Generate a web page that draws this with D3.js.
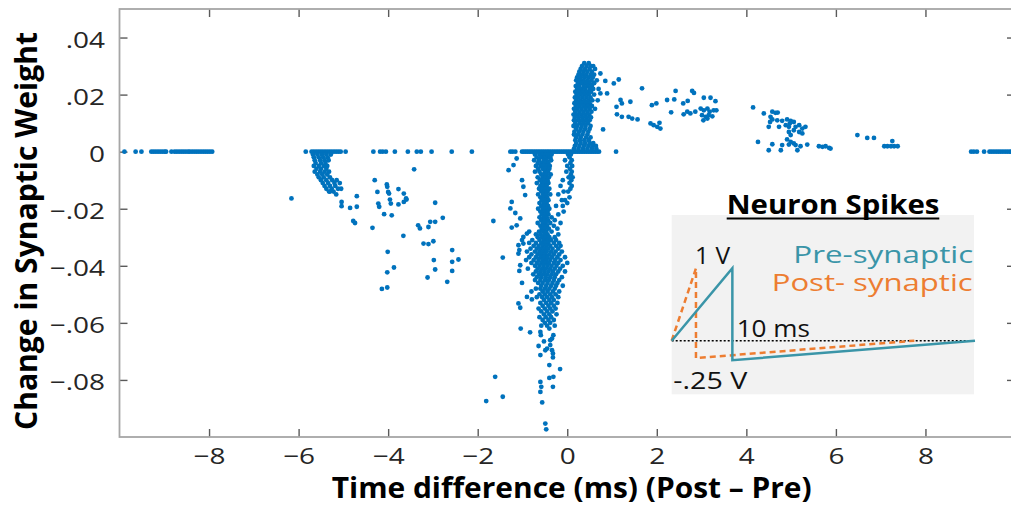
<!DOCTYPE html>
<html>
<head>
<meta charset="utf-8">
<script src="https://cdn.jsdelivr.net/npm/d3@7"></script>
<style>
  body { margin: 0; background: #fff; }
  svg { display: block; font-family: "Open Sans", sans-serif; }
</style>
</head>
<body>
<div id="chart"></div>
<script>
// axis ticks
var xTicks = [-8, -6, -4, -2, 0, 2, 4, 6, 8];
var xTickLabels = ["\u22128", "\u22126", "\u22124", "\u22122", "0", "2", "4", "6", "8"];
var yTicks = [0.04, 0.02, 0, -0.02, -0.04, -0.06, -0.08];
var yTickLabels = [".04", ".02", "0", "\u2212.02", "\u2212.04", "\u2212.06", "\u2212.08"];

// points sitting on zero change (x values only)
var zeroRowX = [-9.89, -9.64, -9.51, -9.29, -9.24, -9.19, -9.14, -9.09, -9.04, -8.99, -8.96,
  -8.84, -8.77, -8.72, -8.67, -8.62, -8.57, -8.52, -8.47, -8.43, -8.38, -8.33, -8.28, -8.23,
  -8.18, -8.13, -8.08, -8.03, -7.98, -7.93,
  -5.84, -5.71, -5.66, -5.61, -5.56, -5.51, -5.46, -5.41, -5.36, -5.31, -5.26, -5.21, -5.16,
  -5.11, -5.06, -4.95, -4.33, -4.18, -4.12, -4.05, -3.85, -3.56, -3.36, -3.27, -3.03, -2.58, -2.13,
  -1.27, -1.22, -1.16, -1.01, -0.97, -0.93, -0.89, -0.85, -0.81, -0.77, -0.73, -0.69, -0.65,
  -0.61, -0.57, -0.53, -0.49, -0.45, -0.41, -0.37, -0.33, -0.29, -0.25, -0.21, -0.17, -0.13,
  -0.09, -0.05, -0.01, 0.03, 0.07, 0.11, 0.15, 0.19, 0.23, 0.27, 0.31, 0.35, 0.39, 0.43, 0.47,
  0.51, 0.55, 0.59, 0.63, 0.67, 0.71, 1.09,
  9.02, 9.08, 9.15, 9.31, 9.43, 9.48, 9.53, 9.58, 9.63, 9.68, 9.73, 9.78, 9.83, 9.88, 9.93, 9.98];

// cluster near -5.5 ms : [weight change, [time differences]]
var earlyRows = [
  [-0.001, [-5.68, -5.58, -5.48, -5.38, -5.28]],
  [-0.002, [-5.66, -5.55, -5.45, -5.35]],
  [-0.003, [-5.64, -5.52, -5.42, -5.33]],
  [-0.004, [-5.62, -5.5, -5.4]],
  [-0.005, [-5.66, -5.55, -5.44, -5.36]],
  [-0.006, [-5.6, -5.5, -5.38]],
  [-0.007, [-5.64, -5.52, -5.42, -5.32]],
  [-0.008, [-5.58, -5.47, -5.36]],
  [-0.009, [-5.55, -5.44, -5.3]],
  [-0.010, [-5.5, -5.38, -5.25, -5.15]],
  [-0.011, [-5.46, -5.34, -5.2, -5.08]],
  [-0.012, [-5.42, -5.3, -5.18]],
  [-0.013, [-5.38, -5.26, -5.12, -5.05]],
  [-0.014, [-5.32, -5.22, -5.3]],
  [-0.015, [-5.16]]
];

// main depression band just below 0 ms
var depressionRows = [
  [-0.001, [-0.72, -0.62, -0.55, -0.48, -0.41, -0.35, 0.02, 0.08]],
  [-0.002, [-0.68, -0.58, -0.5, -0.44, -0.38, 0.05]],
  [-0.003, [-0.74, -0.63, -0.52, -0.46, -0.36, -0.05, 0.1]],
  [-0.004, [-0.66, -0.57, -0.49, -0.42, 0.07]],
  [-0.005, [-0.7, -0.6, -0.53, -0.45, -0.39, 0.0, 0.11]],
  [-0.006, [-0.65, -0.55, -0.48, -0.4, 0.06]],
  [-0.007, [-0.72, -0.62, -0.5, -0.43, -0.02, 0.1]],
  [-0.008, [-0.58, -0.52, -0.46, -0.37, 0.08]],
  [-0.009, [-0.66, -0.55, -0.49, -0.41, 0.03, 0.12]],
  [-0.010, [-0.61, -0.52, -0.44, -0.1, 0.09]],
  [-0.011, [-0.68, -0.57, -0.5, -0.42, 0.05]],
  [-0.012, [-0.6, -0.53, -0.46, -0.15, 0.1]],
  [-0.013, [-0.63, -0.55, -0.48, -0.4, 0.07]],
  [-0.014, [-0.58, -0.51, -0.44, -0.08, 0.02]],
  [-0.015, [-0.65, -0.54, -0.47, -0.38, -0.2]],
  [-0.016, [-0.6, -0.52, -0.45, 0.05]],
  [-0.017, [-0.57, -0.49, -0.42, -0.12, -0.05]],
  [-0.018, [-0.62, -0.53, -0.46, 0.0]],
  [-0.019, [-0.58, -0.5, -0.43, -0.25, -0.1]],
  [-0.020, [-0.65, -0.55, -0.48, -0.4]],
  [-0.021, [-0.6, -0.52, -0.44, -0.08]],
  [-0.022, [-0.57, -0.49, -0.42, -0.2]],
  [-0.023, [-0.62, -0.53, -0.46, -0.35]],
  [-0.024, [-0.58, -0.5, -0.43, -0.28]],
  [-0.025, [-0.66, -0.55, -0.48, -0.38, -0.15]],
  [-0.026, [-0.6, -0.52, -0.45, -0.3]],
  [-0.027, [-0.57, -0.5, -0.41, -0.22]],
  [-0.028, [-0.85, -0.63, -0.54, -0.47, -0.35]],
  [-0.029, [-0.7, -0.6, -0.51, -0.44, -0.2]],
  [-0.030, [-0.66, -0.56, -0.48, -0.4, -0.28]],
  [-0.031, [-0.78, -0.62, -0.53, -0.45, -0.36, -0.25]],
  [-0.032, [-0.85, -0.7, -0.58, -0.5, -0.42, -0.3, -0.18]],
  [-0.033, [-0.75, -0.64, -0.55, -0.47, -0.38, -0.25, -0.15]],
  [-0.034, [-0.82, -0.68, -0.59, -0.51, -0.43, -0.33, -0.2]],
  [-0.035, [-0.9, -0.72, -0.62, -0.54, -0.46, -0.36, -0.26, -0.12]],
  [-0.036, [-0.8, -0.66, -0.57, -0.49, -0.4, -0.3, -0.18]],
  [-0.037, [-0.85, -0.7, -0.6, -0.52, -0.44, -0.34, -0.22, -0.05]],
  [-0.038, [-0.92, -0.75, -0.64, -0.55, -0.47, -0.38, -0.27, -0.15]],
  [-0.039, [-0.8, -0.68, -0.58, -0.5, -0.41, -0.3, -0.2, 0.0]],
  [-0.040, [-0.72, -0.62, -0.53, -0.44, -0.35, -0.24, -0.1]],
  [-0.041, [-0.88, -0.66, -0.56, -0.48, -0.38, -0.28, -0.16]],
  [-0.042, [-0.7, -0.6, -0.51, -0.42, -0.32, -0.2, -0.05]],
  [-0.043, [-0.76, -0.63, -0.54, -0.45, -0.35, -0.25]],
  [-0.044, [-0.68, -0.58, -0.48, -0.38, -0.28, -0.12]],
  [-0.045, [-0.72, -0.6, -0.5, -0.41, -0.3, -0.18]],
  [-0.046, [-0.65, -0.55, -0.44, -0.33, -0.22]],
  [-0.047, [-0.58, -0.47, -0.36, -0.25, -0.1]],
  [-0.048, [-0.7, -0.6, -0.5, -0.4, -0.28]],
  [-0.049, [-0.8, -0.55, -0.44, -0.32, -0.18]],
  [-0.050, [-0.62, -0.5, -0.38, -0.26]],
  [-0.051, [-0.68, -0.56, -0.45, -0.34, -0.2]],
  [-0.052, [-0.52, -0.4, -0.3]],
  [-0.053, [-0.6, -0.47, -0.36, -0.22]],
  [-0.054, [-0.55, -0.42, -0.3]],
  [-0.055, [-0.64, -0.5, -0.38, -0.26]],
  [-0.056, [-0.58, -0.45, -0.33]],
  [-0.057, [-0.52, -0.4, -0.24]],
  [-0.058, [-0.62, -0.48, -0.36]],
  [-0.059, [-0.55, -0.42, -0.3]],
  [-0.060, [-0.5, -0.38]],
  [-0.061, [-0.58, -0.45, -0.28]]
];

// potentiation cluster just above 0 ms
var potentiationRows = [
  [0.031, [0.38, 0.48]],
  [0.030, [0.33, 0.43, 0.52, 0.58]],
  [0.029, [0.3, 0.4, 0.5, 0.62]],
  [0.028, [0.27, 0.36, 0.45, 0.55]],
  [0.027, [0.25, 0.33, 0.42, 0.52, 0.6]],
  [0.026, [0.22, 0.3, 0.39, 0.48, 0.57]],
  [0.025, [0.2, 0.28, 0.36, 0.45, 0.54, 0.66]],
  [0.024, [0.24, 0.33, 0.42, 0.5, 0.6]],
  [0.023, [0.19, 0.27, 0.37, 0.46, 0.55]],
  [0.022, [0.22, 0.31, 0.4, 0.5, 0.58, 0.7]],
  [0.021, [0.18, 0.26, 0.35, 0.44, 0.53]],
  [0.020, [0.21, 0.3, 0.39, 0.48, 0.6]],
  [0.019, [0.17, 0.25, 0.34, 0.43, 0.52]],
  [0.018, [0.2, 0.29, 0.38, 0.47, 0.56, 0.68]],
  [0.017, [0.16, 0.24, 0.33, 0.42, 0.5]],
  [0.016, [0.19, 0.28, 0.37, 0.46, 0.55]],
  [0.015, [0.15, 0.23, 0.32, 0.41, 0.5, 0.62]],
  [0.014, [0.18, 0.27, 0.36, 0.45, 0.54]],
  [0.013, [0.14, 0.22, 0.31, 0.4, 0.49]],
  [0.012, [0.17, 0.26, 0.35, 0.44, 0.53]],
  [0.011, [0.15, 0.24, 0.33, 0.42, 0.5]],
  [0.010, [0.18, 0.28, 0.37, 0.46]],
  [0.009, [0.14, 0.22, 0.32, 0.41, 0.52]],
  [0.008, [0.2, 0.3, 0.4, 0.5]],
  [0.007, [0.16, 0.26, 0.36, 0.47]],
  [0.006, [0.15, 0.24, 0.34, 0.45]],
  [0.005, [0.2, 0.3, 0.42, 0.52]],
  [0.004, [0.18, 0.28, 0.38, 0.48]],
  [0.003, [0.2, 0.3, 0.4, 0.5, 0.58]],
  [0.002, [0.17, 0.27, 0.37, 0.47, 0.56, 0.64]],
  [0.001, [0.15, 0.25, 0.35, 0.45, 0.55, 0.65]]
];

// isolated points [time difference, weight change]
var loosePoints = [
  [-6.16, -0.0164], [-4.70, -0.0156], [-5.04, -0.0176], [-5.04, -0.0191], [-4.85, -0.0197],
  [-4.70, -0.0193], [-4.78, -0.0243], [-4.74, -0.0250], [-4.35, -0.0267], [-4.30, -0.0100],
  [-4.24, -0.0141], [-4.03, -0.0115], [-4.02, -0.0123], [-4.00, -0.0141], [-3.98, -0.0147],
  [-3.77, -0.0131], [-3.65, -0.0147], [-3.60, -0.0164], [-3.65, -0.0176], [-3.59, -0.0168],
  [-3.96, -0.0168], [-3.94, -0.0182], [-3.77, -0.0185], [-4.22, -0.0182], [-4.20, -0.0193],
  [-4.09, -0.0219], [-3.92, -0.0223], [-3.42, -0.0062], [-2.95, -0.0179], [-2.78, -0.0232],
  [-3.06, -0.0246], [-2.95, -0.0246], [-3.33, -0.0258], [-3.29, -0.0269], [-3.10, -0.0264],
  [-3.66, -0.0295], [-3.21, -0.0322], [-3.10, -0.0324], [-2.99, -0.0314], [-4.01, -0.0351],
  [-2.57, -0.0345], [-2.98, -0.0380], [-2.57, -0.0386], [-2.43, -0.0378], [-3.87, -0.0406],
  [-2.95, -0.0413], [-2.57, -0.0418], [-4.02, -0.0423], [-3.12, -0.0441], [-2.68, -0.0456],
  [-4.14, -0.0481], [-4.02, -0.0476],
  [-1.20, -0.0047], [-1.31, -0.0065], [-1.13, -0.0024], [-1.01, -0.0100], [-0.98, -0.0123],
  [-0.94, -0.0152], [-1.24, -0.0176], [-1.27, -0.0199], [-1.16, -0.0215], [-1.65, -0.0243],
  [-1.05, -0.0234], [-1.13, -0.0258], [-1.24, -0.0266], [-0.98, -0.0299], [-1.01, -0.0310],
  [-0.90, -0.0287], [-1.09, -0.0328], [-1.07, -0.0345], [-1.09, -0.0357], [-0.98, -0.0322],
  [-1.44, -0.0371], [-1.05, -0.0398], [-1.07, -0.0418], [-1.01, -0.0460], [-0.90, -0.0509],
  [-0.79, -0.0518], [-1.09, -0.0532], [-1.05, -0.0547], [-1.04, -0.0620], [-0.83, -0.0633],
  [-1.61, -0.0789], [-1.81, -0.0874], [-1.44, -0.0859], [-0.49, -0.0953], [-0.47, -0.0973],
  [-0.60, -0.0807], [-0.58, -0.0824], [-0.60, -0.0842], [-0.40, -0.0793], [-0.31, -0.0789],
  [-0.32, -0.0824], [-0.16, -0.0762], [-0.40, -0.0748], [-0.60, -0.0713], [-0.49, -0.0696],
  [-0.64, -0.0681], [-0.38, -0.0678], [-0.34, -0.0696], [-0.32, -0.0707], [-0.32, -0.0721],
  [-0.56, -0.0879], [-0.60, -0.0632], [-0.59, -0.0643], [-0.40, -0.0620], [-0.31, -0.0643],
  [-0.34, -0.0655], [-0.38, -0.0661], [-0.52, -0.0665], [-0.45, -0.0690],
  [0.74, 0.0274], [0.85, 0.0248], [1.04, 0.0239], [1.15, 0.0253], [0.74, 0.0204], [0.89, 0.0204],
  [1.19, 0.0181], [1.22, 0.0169], [1.41, 0.0175], [1.10, 0.0157], [1.11, 0.0131], [1.22, 0.0122],
  [1.37, 0.0122], [1.45, 0.0116], [1.57, 0.0113], [0.80, 0.0078], [1.67, 0.0222], [1.89, 0.0163],
  [1.99, 0.0169], [1.86, 0.0099], [1.93, 0.0093], [2.01, 0.0087], [2.06, 0.0101], [2.08, 0.0081],
  [2.23, 0.0181], [2.39, 0.0183], [2.42, 0.0213], [2.32, 0.0138], [2.59, 0.0169], [2.69, 0.0178],
  [2.79, 0.0213], [2.83, 0.0206], [2.60, 0.0131], [2.68, 0.0140], [2.75, 0.0134], [2.86, 0.0140],
  [3.05, 0.0189], [3.20, 0.0189], [3.31, 0.0177], [2.98, 0.0151], [3.05, 0.0145], [3.13, 0.0151],
  [3.18, 0.0140], [3.27, 0.0145], [3.33, 0.0145], [3.01, 0.0128], [3.09, 0.0122], [3.16, 0.0128],
  [3.24, 0.0124], [3.04, 0.0110], [3.13, 0.0116],
  [4.15, 0.0155], [4.39, 0.0134], [4.58, 0.0140], [4.65, 0.0136], [4.70, 0.0137], [4.54, 0.0122],
  [4.58, 0.0113], [4.53, 0.0104], [4.69, 0.0110], [4.80, 0.0108], [4.91, 0.0113], [4.99, 0.0108],
  [5.06, 0.0104], [4.97, 0.0099], [4.50, 0.0087], [4.73, 0.0087], [4.88, 0.0093], [4.95, 0.0087],
  [5.10, 0.0087], [5.18, 0.0093], [5.25, 0.0081], [5.32, 0.0087], [4.95, 0.0069], [5.06, 0.0075],
  [5.18, 0.0069], [5.25, 0.0064], [4.99, 0.0058], [4.26, 0.0034], [4.91, 0.0043], [4.99, 0.0034],
  [5.06, 0.0029], [4.58, 0.0026], [4.50, 0.0005], [4.77, 0.0005], [4.80, 0.0023], [4.95, 0.0025],
  [5.10, 0.0023], [5.21, 0.0019], [5.36, 0.0025], [5.14, 0.0005], [5.62, 0.0019], [5.70, 0.0017],
  [5.77, 0.0019], [5.85, 0.0013], [5.88, 0.0011], [6.48, 0.0058], [6.70, 0.0048], [6.85, 0.0048],
  [7.26, 0.0037], [7.08, 0.0019], [7.15, 0.0019], [7.23, 0.0019], [7.30, 0.0019], [7.38, 0.0019]
];

// inset spike shapes: [time in ms, volts]
var preSpike = [[0, 0], [10, 1], [10, -0.27], [50, 0]];
var postSpike = [[0, 0], [4, 1], [4, -0.24], [40, 0]];

// collect scatter points
var points = [];
zeroRowX.forEach(function(t) { points.push([t, 0]); });
[earlyRows, depressionRows, potentiationRows].forEach(function(rows) {
  rows.forEach(function(r) {
    r[1].forEach(function(t) { points.push([t, r[0]]); });
  });
});
loosePoints.forEach(function(p) { points.push(p); });

var width = 1011, height = 512;

var svg = d3.select("#chart").append("svg")
  .attr("width", width)
  .attr("height", height);

var x = d3.scaleLinear().domain([-10, 10]).range([119.5, 1015]);
var y = d3.scaleLinear().domain([-0.1, 0.05]).range([437, 9]);

// axes with inward ticks
var xAxis = svg.append("g")
  .attr("transform", "translate(0," + y.range()[0] + ")")
  .call(d3.axisBottom(x).tickValues(xTicks).tickSizeInner(-8).tickSizeOuter(0)
    .tickFormat(function(d, i) { return xTickLabels[i]; }));
var xTop = svg.append("g")
  .attr("transform", "translate(0," + y.range()[1] + ")")
  .call(d3.axisTop(x).tickValues(xTicks).tickSizeInner(-8).tickSizeOuter(0).tickFormat(""));
var yAxis = svg.append("g")
  .attr("transform", "translate(" + x.range()[0] + ",0)")
  .call(d3.axisLeft(y).tickValues(yTicks).tickSizeInner(-8).tickSizeOuter(0)
    .tickFormat(function(d, i) { return yTickLabels[i]; }));
var yRight = svg.append("g")
  .attr("transform", "translate(" + x.range()[1] + ",0)")
  .call(d3.axisRight(y).tickValues(yTicks).tickSizeInner(-8).tickSizeOuter(0).tickFormat(""));

[xAxis, xTop, yAxis, yRight].forEach(function(g) {
  g.select(".domain").remove();
  g.selectAll("line").attr("stroke", "#5a5a5a").attr("stroke-width", 1.4);
});

// tick labels are drawn a bit wider than the font's natural width
function widen(sel) {
  sel.style("font-family", "Open Sans").style("font-size", "22px").attr("fill", "#262626")
    .attr("lengthAdjust", "spacingAndGlyphs")
    .attr("textLength", function() { return this.getComputedTextLength() * 1.27; });
}
xAxis.selectAll("text").attr("y", 27).attr("dy", null).call(widen);
yAxis.selectAll("text").attr("x", -14.5).attr("dy", null).attr("y", 9.5).call(widen);

// frame
svg.append("rect")
  .attr("x", x.range()[0]).attr("y", y.range()[1])
  .attr("width", x.range()[1] - x.range()[0])
  .attr("height", y.range()[0] - y.range()[1])
  .attr("fill", "none").attr("stroke", "#a6a6a6").attr("stroke-width", 1.8);

// scatter
svg.append("g").selectAll("circle")
  .data(points)
  .enter().append("circle")
  .attr("cx", function(d) { return x(d[0]); })
  .attr("cy", function(d) { return y(d[1]); })
  .attr("r", 2.4)
  .attr("fill", "#0072BD");

// axis titles
svg.append("text")
  .attr("x", 331.7).attr("y", 498)
  .attr("textLength", 480).attr("lengthAdjust", "spacingAndGlyphs")
  .style("font-weight", "bold").style("font-size", "29px")
  .text("Time difference (ms) (Post \u2013 Pre)");

svg.append("text")
  .attr("transform", "rotate(-90)")
  .attr("x", -430).attr("y", 37)
  .attr("textLength", 398).attr("lengthAdjust", "spacingAndGlyphs")
  .style("font-weight", "bold").style("font-size", "30px")
  .text("Change in Synaptic Weight");

// inset
var ix = d3.scaleLinear().domain([0, 50]).range([671.7, 975]);
var iy = d3.scaleLinear().domain([0, 1]).range([340.7, 268.3]);
var inset = svg.append("g");

inset.append("rect")
  .attr("x", 671.7).attr("y", 215)
  .attr("width", 302.3).attr("height", 179.3)
  .attr("fill", "#f2f2f2");

inset.append("text")
  .attr("x", 726.7).attr("y", 214)
  .attr("textLength", 212.7).attr("lengthAdjust", "spacingAndGlyphs")
  .style("font-weight", "bold").style("font-size", "27px")
  .text("Neuron Spikes");
inset.append("line")
  .attr("x1", 726.7).attr("x2", 939.3).attr("y1", 218.5).attr("y2", 218.5)
  .attr("stroke", "#000").attr("stroke-width", 2);

inset.append("line")
  .attr("x1", ix(0)).attr("x2", ix(50)).attr("y1", iy(0)).attr("y2", iy(0))
  .attr("stroke", "#000").attr("stroke-width", 1.5).attr("stroke-dasharray", "2,2");

var spikeLine = d3.line()
  .x(function(d) { return ix(d[0]); })
  .y(function(d) { return iy(d[1]); });

inset.append("path")
  .datum(postSpike)
  .attr("d", spikeLine)
  .attr("fill", "none").attr("stroke", "#ed7d31").attr("stroke-width", 2.5)
  .attr("stroke-dasharray", "6,4");
inset.append("path")
  .datum(preSpike)
  .attr("d", spikeLine)
  .attr("fill", "none").attr("stroke", "#3a95a8").attr("stroke-width", 2.5);

inset.append("text")
  .attr("x", 793.3).attr("y", 263.3)
  .attr("textLength", 180).attr("lengthAdjust", "spacingAndGlyphs")
  .style("font-size", "24px").attr("fill", "#3a95a8")
  .text("Pre-synaptic");
inset.append("text")
  .attr("x", 771.7).attr("y", 291)
  .attr("textLength", 201).attr("lengthAdjust", "spacingAndGlyphs")
  .style("font-size", "24px").attr("fill", "#ed7d31")
  .text("Post- synaptic");
inset.append("text")
  .attr("x", 695).attr("y", 264.3)
  .attr("textLength", 35).attr("lengthAdjust", "spacingAndGlyphs")
  .style("font-size", "23px").attr("fill", "#111")
  .text("1 V");
inset.append("text")
  .attr("x", 736.7).attr("y", 336.7)
  .attr("textLength", 73.3).attr("lengthAdjust", "spacingAndGlyphs")
  .style("font-size", "23px").attr("fill", "#111")
  .text("10 ms");
inset.append("text")
  .attr("x", 673.3).attr("y", 389)
  .attr("textLength", 74).attr("lengthAdjust", "spacingAndGlyphs")
  .style("font-size", "23px").attr("fill", "#111")
  .text("-.25 V");
</script>
</body>
</html>
